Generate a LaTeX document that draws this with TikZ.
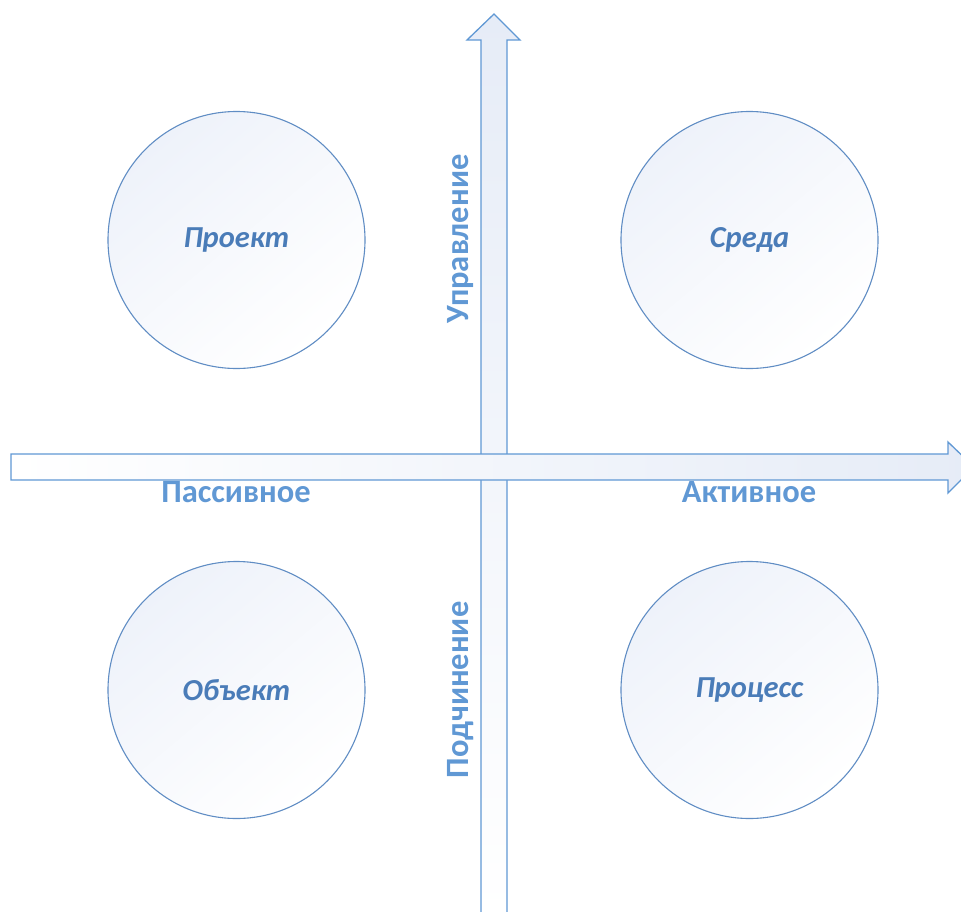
\documentclass[tikz,border=0pt]{standalone}
\usepackage{fontspec}
\setmainfont{Carlito}
\usepackage{tikz}

\definecolor{rimblue}{RGB}{96,141,196}
\definecolor{textblue}{RGB}{74,124,184}
\definecolor{axisblue}{RGB}{96,152,212}
\definecolor{paleblue}{RGB}{230,236,247}
\definecolor{circblue}{RGB}{238,242,250}

\tikzset{
  quadrant/.style={circle, draw=rimblue, line width=1.1pt, minimum size=257pt, inner sep=0pt,
    top color=circblue, bottom color=white, shading angle=40,
    font=\fontsize{30.5}{33}\selectfont\bfseries\itshape, text=textblue},
  axislabel/.style={font=\fontsize{32.5}{35}\selectfont\bfseries, text=axisblue, inner sep=0.75pt},
  blockarrow/.style={draw=axisblue, line width=1.3pt}
}

\begin{document}
\begin{tikzpicture}[x=1pt,y=1pt,yscale=-1,xscale=1]
\useasboundingbox (0,0) rectangle (961,911);
\clip (0,0) rectangle (961,911);

%Block Arrow: Up
\draw [blockarrow, top color=paleblue, bottom color=white] (481,916) -- (481,40) -- (467,40) -- (494,14) -- (520,40) -- (507,40) -- (507,916) -- cycle ;
%Block Arrow: Right
\draw [blockarrow, left color=white, right color=paleblue] (11,454) -- (948,454) -- (948,442) -- (974,467) -- (948,493) -- (948,480) -- (11,480) -- cycle ;

%Circles
\node [quadrant] (proekt) at (236.5,240) {Проект};
\node [quadrant] (sreda) at (749.5,240) {Среда};
\node [quadrant] (obekt) at (236.5,690) {Объект};
\node [quadrant] (process) at (749.5,690) {Процесс};

% Text Node
\node [axislabel] (passive) at (236,492) {Пассивное};
% Text Node
\node [axislabel] (active) at (749,492) {Активное};
% Text Node
\node [axislabel, rotate=90] (control) at (461,239) {Управление};
% Text Node
\node [axislabel, rotate=90] (submit) at (461,690) {Подчинение};

\end{tikzpicture}
\end{document}
